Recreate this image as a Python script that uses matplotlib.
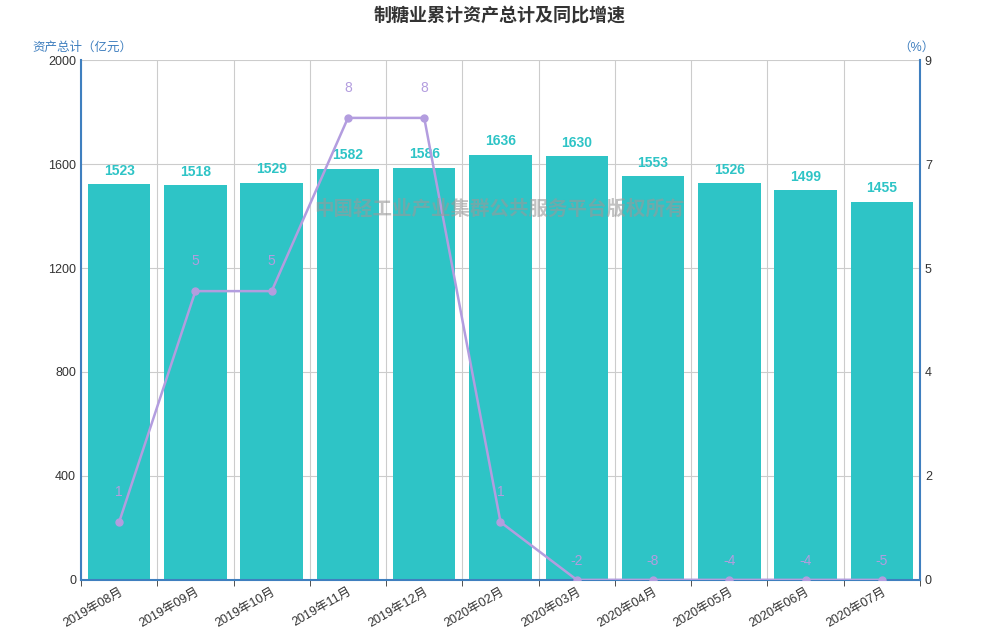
import matplotlib
matplotlib.use("Agg")
import matplotlib.pyplot as plt
import numpy as np

plt.rcParams['font.family'] = ['Liberation Sans', 'Noto Sans CJK SC', 'DejaVu Sans']

months = ["2019年08月", "2019年09月", "2019年10月", "2019年11月", "2019年12月",
          "2020年02月", "2020年03月", "2020年04月", "2020年05月", "2020年06月", "2020年07月"]
assets = [1523, 1518, 1529, 1582, 1586, 1636, 1630, 1553, 1526, 1499, 1455]
growth = [1, 5, 5, 8, 8, 1, -2, -8, -4, -4, -5]

BAR = "#2ec4c6"
LINE = "#b39ddf"
AXIS = "#3f7fbf"

fig = plt.figure(figsize=(10, 6.4), dpi=100)
ax = fig.add_axes([0.081, 0.094, 0.839, 0.812])
ax2 = ax.twinx()

x = np.arange(len(months))
ax.bar(x, assets, width=0.82, color=BAR, zorder=2)
for xi, v in zip(x, assets):
    ax.text(xi, v + 25, str(v), ha="center", va="bottom", color=BAR,
            fontsize=10, fontweight="bold")

ax.set_xlim(-0.5, len(months) - 0.5)
ax.set_ylim(0, 2000)
ax.set_yticks([0, 400, 800, 1200, 1600, 2000])
ax.set_xticks(x)
ax.set_xticklabels(months, rotation=30, ha="right", rotation_mode="anchor", fontsize=9, color="#333")
ax.set_xticks(np.arange(-0.5, len(months)), minor=True)
ax.grid(True, which="minor", axis="x", color="#ccc", lw=0.8, zorder=0)
ax.grid(True, which="major", axis="y", color="#ccc", lw=0.8, zorder=0)
ax.tick_params(axis="x", which="major", length=0, pad=4)
ax.tick_params(axis="x", which="minor", length=4, color="#333")
ax.tick_params(axis="y", labelsize=9, labelcolor="#333", length=0)
for s in ["top", "right"]:
    ax.spines[s].set_visible(False)
ax.spines["left"].set_color(AXIS)
ax.spines["left"].set_linewidth(1.5)
ax.spines["bottom"].set_color(AXIS)
ax.spines["bottom"].set_linewidth(1.5)

plot_growth = np.clip(growth, 0, None)
ax2.plot(x, plot_growth, color=LINE, lw=1.8, marker="o", ms=5, zorder=5)
for xi, g, pg in zip(x, growth, plot_growth):
    ax2.text(xi, pg + 0.4 if g >= 0 else 0.2, str(g), ha="center", va="bottom",
             color=LINE, fontsize=10)
ax2.set_ylim(0, 9)
ax2.set_yticks([0, 1.8, 3.6, 5.4, 7.2, 9])
ax2.set_yticklabels(["0", "2", "4", "5", "7", "9"])
ax2.tick_params(axis="y", labelsize=9, labelcolor="#333", length=0)
for s in ["top", "left", "bottom"]:
    ax2.spines[s].set_visible(False)
ax2.spines["right"].set_color(AXIS)
ax2.spines["right"].set_linewidth(1.5)

fig.text(0.5, 0.975, "制糖业累计资产总计及同比增速", ha="center", va="center",
         fontsize=13, fontweight="bold", color="#333")
fig.text(0.032, 0.925, "资产总计（亿元）", ha="left", va="center", fontsize=9, color=AXIS)
fig.text(0.935, 0.925, "（%）", ha="right", va="center", fontsize=9, color=AXIS)
fig.text(0.5, 0.673, "中国轻工业产业集群公共服务平台版权所有", ha="center", va="center",
         fontsize=14, color="#999", alpha=0.6, fontweight="bold")

fig.savefig("out.png", dpi=100)
